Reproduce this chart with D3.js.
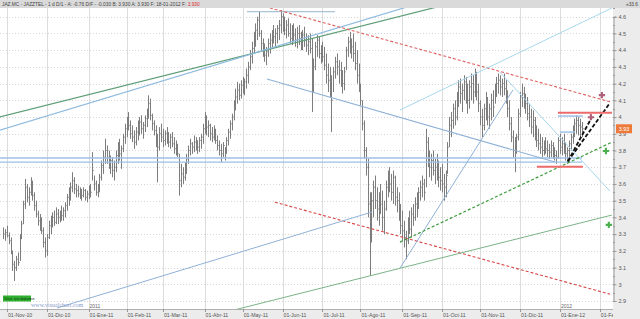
<!DOCTYPE html>
<html>
<head>
<meta charset="utf-8">
<script src="https://cdn.jsdelivr.net/npm/d3@7"></script>
<style>
  html, body { margin: 0; padding: 0; background: #fff; }
  svg { display: block; font-family: "Liberation Sans", Arial, sans-serif; }
</style>
</head>
<body>
<div id="chart"></div>
<script>
// JAZ.MC daily bars, 28-Oct-2010 .. 18-Jan-2012 (one value per trading day)
var high = [
  3.34,3.33,3.35,3.31,3.28,3.20,3.14,3.17,3.19,3.30, 3.38,3.50,3.63,3.60,3.58,3.64,3.62,3.55,3.50,3.44,
  3.42,3.40,3.34,3.28,3.30,3.38,3.41,3.43,3.44,3.46, 3.45,3.44,3.47,3.46,3.49,3.54,3.58,3.61,3.67,3.64,
  3.60,3.59,3.58,3.57,3.58,3.57,3.56,3.59,3.60,3.79, 3.65,3.62,3.60,3.66,3.74,3.80,3.87,3.83,3.80,3.77,
  3.76,3.74,3.80,3.85,3.87,3.83,3.90,3.96,4.00,4.03, 3.98,3.95,3.92,3.94,3.98,4.00,4.01,3.97,4.01,4.05,
  4.13,4.11,4.02,3.98,3.95,3.90,3.94,3.96,3.93,3.92, 3.94,3.91,3.90,3.91,3.88,3.86,3.84,3.78,3.72,3.70,
  3.73,3.78,3.83,3.87,3.85,3.89,3.88,3.86,3.88,3.90, 3.96,4.03,4.01,3.98,3.96,3.94,3.95,3.93,3.89,3.86,
  3.84,3.85,3.82,3.88,3.93,3.98,4.02,4.10,4.17,4.21, 4.20,4.22,4.24,4.23,4.29,4.33,4.40,4.45,4.51,4.56,
  4.60,4.63,4.52,4.47,4.44,4.42,4.47,4.50,4.52,4.55, 4.53,4.55,4.58,4.64,4.62,4.60,4.58,4.59,4.56,4.55,
  4.56,4.53,4.54,4.55,4.51,4.52,4.54,4.50,4.49,4.50, 4.47,4.35,4.45,4.49,4.48,4.43,4.45,4.42,4.38,4.32,
  4.30,4.25,4.30,4.36,4.38,4.34,4.33,4.28,4.30,4.42, 4.48,4.51,4.47,4.50,4.45,4.40,4.32,4.20,4.10,3.98,
  3.82,3.75,3.55,3.55,3.62,3.65,3.58,3.55,3.60,3.56, 3.50,3.62,3.68,3.70,3.66,3.68,3.65,3.58,3.55,3.48,
  3.44,3.38,3.32,3.40,3.44,3.46,3.48,3.52,3.55,3.58, 3.62,3.65,3.63,3.93,3.88,3.80,3.78,3.80,3.75,3.78,
  3.74,3.70,3.72,3.66,3.68,3.85,4.00,4.03,4.08,4.10, 4.15,4.22,4.23,4.20,4.25,4.24,4.20,4.22,4.26,4.25,
  4.29,4.27,4.20,4.10,4.05,4.08,4.15,4.12,4.08,4.14, 4.16,4.20,4.24,4.26,4.25,4.23,4.26,4.22,4.16,4.10,
  4.00,3.92,3.88,3.90,4.05,4.15,4.20,4.18,4.14,4.12, 4.08,4.05,4.04,4.00,3.95,3.93,3.90,3.88,3.86,3.88,
  3.86,3.84,3.86,3.85,3.82,3.80,3.88,3.90,3.88,3.90, 3.85,3.82,3.86,3.90,3.95,3.99,4.01,4.00,3.99,3.97
];
var low = [
  3.27,3.26,3.28,3.24,3.18,3.08,3.02,3.08,3.11,3.14, 3.27,3.36,3.45,3.49,3.47,3.53,3.50,3.44,3.40,3.35,
  3.32,3.30,3.22,3.16,3.17,3.27,3.30,3.34,3.35,3.36, 3.36,3.37,3.38,3.38,3.40,3.44,3.47,3.50,3.55,3.54,
  3.52,3.52,3.51,3.50,3.52,3.50,3.49,3.51,3.52,3.62, 3.56,3.53,3.52,3.55,3.62,3.66,3.72,3.72,3.69,3.66,
  3.64,3.62,3.67,3.72,3.74,3.69,3.79,3.84,3.88,3.92, 3.87,3.85,3.81,3.83,3.86,3.89,3.90,3.87,3.91,3.94,
  3.99,3.98,3.92,3.89,3.82,3.61,3.80,3.85,3.82,3.83, 3.84,3.82,3.81,3.82,3.78,3.77,3.76,3.53,3.58,3.60,
  3.62,3.66,3.72,3.77,3.78,3.79,3.80,3.78,3.79,3.81, 3.84,3.90,3.89,3.88,3.86,3.85,3.86,3.84,3.80,3.77,
  3.73,3.76,3.74,3.78,3.83,3.87,3.92,3.98,4.04,4.08, 4.10,4.11,4.14,4.13,4.17,4.20,4.28,4.32,4.38,4.42,
  4.46,4.48,4.40,4.36,4.33,4.31,4.36,4.38,4.41,4.44, 4.42,4.44,4.46,4.50,4.51,4.49,4.47,4.48,4.44,4.43,
  4.45,4.42,4.41,4.43,4.40,4.40,4.42,4.39,4.37,4.38, 4.03,4.15,4.28,4.36,4.35,4.32,4.33,4.28,4.20,4.15,
  4.12,3.91,4.15,4.23,4.25,4.20,4.18,4.14,4.16,4.28, 4.36,4.38,4.35,4.33,4.28,4.20,4.15,4.07,3.92,3.75,
  3.65,3.40,3.05,3.25,3.40,3.45,3.38,3.35,3.42,3.32, 3.30,3.44,3.52,3.55,3.50,3.48,3.47,3.43,3.38,3.30,
  3.26,3.22,3.15,3.24,3.30,3.28,3.35,3.38,3.40,3.45, 3.50,3.52,3.50,3.58,3.70,3.64,3.62,3.65,3.60,3.62,
  3.58,3.56,3.55,3.50,3.52,3.66,3.82,3.88,3.93,3.95, 3.98,4.06,4.08,4.03,4.10,4.08,4.02,4.05,4.10,4.08,
  4.12,4.10,4.03,3.95,3.88,3.92,3.98,3.95,3.93,3.98, 4.00,4.08,4.12,4.14,4.13,4.12,4.13,4.08,4.00,3.92,
  3.85,3.76,3.67,3.78,3.86,4.00,4.06,4.05,4.02,3.98, 3.94,3.90,3.88,3.86,3.82,3.80,3.78,3.76,3.77,3.78,
  3.76,3.75,3.76,3.75,3.74,3.72,3.75,3.78,3.77,3.78, 3.74,3.72,3.76,3.80,3.84,3.88,3.90,3.89,3.88,3.88
];
var close = [
  3.30,3.31,3.29,3.26,3.20,3.12,3.10,3.15,3.13,3.28, 3.36,3.48,3.58,3.52,3.55,3.60,3.53,3.47,3.42,3.38,
  3.36,3.32,3.25,3.20,3.28,3.35,3.38,3.40,3.37,3.42, 3.40,3.43,3.41,3.44,3.47,3.52,3.56,3.58,3.62,3.57,
  3.56,3.54,3.55,3.53,3.56,3.52,3.54,3.57,3.55,3.68, 3.60,3.55,3.58,3.64,3.71,3.76,3.80,3.76,3.72,3.74,
  3.68,3.70,3.77,3.80,3.78,3.81,3.88,3.93,3.97,3.95, 3.90,3.88,3.85,3.91,3.94,3.97,3.93,3.95,3.99,4.02,
  4.08,4.01,3.96,3.92,3.85,3.82,3.90,3.88,3.86,3.90, 3.87,3.85,3.88,3.84,3.81,3.80,3.78,3.62,3.66,3.64,
  3.70,3.75,3.80,3.84,3.82,3.85,3.86,3.82,3.86,3.88, 3.93,3.98,3.94,3.95,3.90,3.88,3.92,3.86,3.83,3.80,
  3.78,3.83,3.80,3.86,3.91,3.96,4.00,4.07,4.12,4.16, 4.13,4.19,4.18,4.21,4.25,4.30,4.36,4.41,4.47,4.52,
  4.58,4.50,4.44,4.40,4.37,4.39,4.44,4.46,4.49,4.48, 4.50,4.53,4.55,4.60,4.57,4.52,4.55,4.50,4.47,4.52,
  4.49,4.46,4.50,4.47,4.44,4.49,4.46,4.43,4.45,4.41, 4.20,4.30,4.42,4.46,4.38,4.40,4.36,4.31,4.25,4.22,
  4.18,4.10,4.27,4.33,4.30,4.28,4.22,4.20,4.27,4.40, 4.45,4.43,4.42,4.38,4.32,4.25,4.18,4.10,3.96,3.80,
  3.70,3.48,3.35,3.50,3.58,3.50,3.45,3.52,3.48,3.40, 3.45,3.58,3.62,3.60,3.55,3.64,3.52,3.50,3.42,3.35,
  3.32,3.28,3.26,3.36,3.33,3.42,3.40,3.48,3.50,3.55, 3.58,3.60,3.55,3.85,3.75,3.70,3.74,3.68,3.70,3.66,
  3.64,3.62,3.60,3.58,3.65,3.82,3.95,3.98,4.05,4.00, 4.12,4.18,4.14,4.16,4.21,4.12,4.10,4.18,4.20,4.15,
  4.24,4.15,4.08,4.00,3.95,4.05,4.10,4.00,4.05,4.10, 4.06,4.18,4.20,4.22,4.18,4.20,4.17,4.12,4.05,3.96,
  3.88,3.80,3.85,3.88,4.02,4.12,4.14,4.10,4.08,4.02, 4.00,3.94,3.98,3.90,3.86,3.84,3.82,3.80,3.84,3.81,
  3.80,3.79,3.83,3.78,3.77,3.76,3.86,3.82,3.84,3.80, 3.78,3.80,3.84,3.88,3.92,3.96,3.98,3.95,3.94,3.93
];

var monthLabels = ["01-Nov-10","01-Dic-10","01-Ene-11","01-Feb-11","01-Mar-11","01-Abr-11","01-May-11",
  "01-Jun-11","01-Jul-11","01-Ago-11","01-Sep-11","01-Oct-11","01-Nov-11","01-Dic-11","01-Ene-12","01-Feb-12"];
var yearLabels = [["2011", 2], ["2012", 14]];   // year text, index into monthLabels
var priceTicks = d3.range(29, 47).map(function(d) { return d / 10; });
var lastPrice = 3.93;

// drawn studies, in [bar index, price] pairs
var studyNames = ["greenUp","blueUp","support1","support2","peak","redTop","redLow","blueDown",
  "cyanDown","cyanUp","blueSteep","blueLong","greenLow","greenDash","black1","black2",
  "redShort1","blueShort1","blueShort2","redShort2"];
var studyFrom = [[-2,4.00],[-2,3.922],[-2,3.755],[-2,3.731],[134.4,4.63],[144.3,4.661],[149.8,3.491],[145.4,4.227],
  [273.9,4.269],[218.8,4.042],[218.8,3.097],[29.6,2.858],[125,2.84],[218.8,3.252],[311.4,3.735],[311.4,3.735],
  [305.9,4.026],[305.9,4.006],[307,3.91],[294.3,3.703]];
var studyTo = [[243.6,4.67],[228.1,4.676],[319.2,3.755],[319.2,3.731],[182.9,4.63],[335.1,4.09],[334.6,2.941],[304.3,3.731],
  [334.6,3.557],[335.7,4.652],[281.1,4.162],[203.3,3.432],[335.7,3.414],[335.7,3.85],[334.6,4.084],[324.7,4.0],
  [335.7,4.026],[319.7,4.006],[315.3,3.91],[319.7,3.703]];
var signalUp = [[332.4,3.797],[334.0,3.355]];
var signalDown = [[330.2,4.131],[324.1,3.999]];

var studyStyle = {
  greenUp:   ["#5f9e78", 1.2, null],
  blueUp:    ["#8fbbe0", 1.2, null],
  support1:  ["#9cc0e6", 1.3, null],
  support2:  ["#9cc0e6", 1.3, null],
  peak:      ["#a9c4d6", 1.2, null],
  redTop:    ["#e06060", 1.1, "3,2"],
  redLow:    ["#d84848", 1.1, "3,2"],
  blueDown:  ["#8fb1d6", 1.1, null],
  cyanDown:  ["#a8d4ec", 1.0, null],
  cyanUp:    ["#a8d8ee", 1.0, null],
  blueSteep: ["#8fb1d6", 1.0, null],
  blueLong:  ["#8fb1d6", 1.0, null],
  greenLow:  ["#7bb486", 1.0, null],
  greenDash: ["#3d9b3d", 1.2, "3,2"],
  black1:    ["#111", 1.8, "4,2"],
  black2:    ["#111", 1.8, "4,2"],
  redShort1: ["#ee6a6a", 2, null],
  blueShort1:["#9cc0e6", 1.5, null],
  blueShort2:["#9cc0e6", 1.5, null],
  redShort2: ["#ee6a6a", 2, null]
};

var W = 640, H = 319;
var plotRight = 613, plotTop = 8, plotBottom = 309;

// trading days (weekdays) from first bar to the end of the visible window
var days = d3.timeDay.range(new Date(2010, 9, 28), new Date(2012, 1, 15))
  .filter(function(d) { return d.getDay() !== 0 && d.getDay() !== 6; });

var x = d3.scaleLinear().domain([-1.86, 336.3]).range([0, plotRight]);
var y = d3.scaleLinear().domain([2.9, 4.6]).range([301, 16.7]);

var svg = d3.select("#chart").append("svg").attr("width", W).attr("height", H);

svg.append("rect").attr("width", W).attr("height", H).attr("fill", "#fff");
var defs = svg.append("defs");
defs.append("clipPath").attr("id", "plot")
  .append("rect").attr("x", 0).attr("y", plotTop).attr("width", plotRight).attr("height", plotBottom - plotTop);
defs.append("clipPath").attr("id", "dates")
  .append("rect").attr("x", 0).attr("y", plotBottom).attr("width", plotRight).attr("height", H - plotBottom);

// month positions: first trading day of each month
var monthIdx = [];
days.forEach(function(d, i) {
  if (i > 0 && d.getMonth() !== days[i - 1].getMonth()) monthIdx.push(i);
});
monthIdx = monthIdx.slice(0, monthLabels.length);

var plot = svg.append("g").attr("clip-path", "url(#plot)");

// grid
plot.selectAll(".vgrid").data(monthIdx).enter().append("line")
  .attr("x1", function(d) { return Math.round(x(d)) + 0.5; })
  .attr("x2", function(d) { return Math.round(x(d)) + 0.5; })
  .attr("y1", plotTop).attr("y2", plotBottom)
  .attr("stroke", "#dcdcdc").attr("stroke-width", 1);
plot.selectAll(".hgrid").data(priceTicks).enter().append("line")
  .attr("x1", 0).attr("x2", plotRight)
  .attr("y1", function(d) { return Math.round(y(d)) + 0.5; })
  .attr("y2", function(d) { return Math.round(y(d)) + 0.5; })
  .attr("stroke", "#d6d6d6").attr("stroke-dasharray", "1,2");

// bars
var bars = plot.append("g");
high.forEach(function(h, i) {
  var bx = Math.round(x(i)) + 0.5;
  bars.append("line").attr("x1", bx).attr("x2", bx)
    .attr("y1", y(h)).attr("y2", y(low[i]))
    .attr("stroke", "#7d7d7d").attr("stroke-width", 1);
  bars.append("line").attr("x1", bx).attr("x2", bx + 1.2)
    .attr("y1", y(close[i])).attr("y2", y(close[i]))
    .attr("stroke", "#7d7d7d").attr("stroke-width", 1);
});

// studies
studyNames.forEach(function(n, k) {
  var s = studyStyle[n];
  plot.append("line")
    .attr("x1", x(studyFrom[k][0])).attr("y1", y(studyFrom[k][1]))
    .attr("x2", x(studyTo[k][0])).attr("y2", y(studyTo[k][1]))
    .attr("stroke", s[0]).attr("stroke-width", s[1])
    .attr("stroke-dasharray", s[2]);
});

// signals
var crossPath = d3.symbol().type(d3.symbolCross).size(22);
plot.selectAll(".up").data(signalUp).enter().append("path")
  .attr("d", crossPath)
  .attr("transform", function(d) { return "translate(" + x(d[0]) + "," + y(d[1]) + ")"; })
  .attr("fill", "#4caf50");
plot.selectAll(".dn").data(signalDown).enter().append("path")
  .attr("d", crossPath)
  .attr("transform", function(d) { return "translate(" + x(d[0]) + "," + y(d[1]) + ")"; })
  .attr("fill", "#b0607a");

// right price axis
svg.append("rect").attr("x", plotRight).attr("y", 0).attr("width", W - plotRight).attr("height", H)
  .attr("fill", "#ececec");
var yAxis = svg.append("g").attr("transform", "translate(" + (plotRight + 0.5) + ",0)")
  .call(d3.axisRight(y).tickValues(priceTicks).tickSize(3)
    .tickFormat(function(d) { return +d.toFixed(1); }));
yAxis.select(".domain").attr("stroke", "#9a9a9a");
yAxis.selectAll(".tick line").attr("stroke", "#9a9a9a");
yAxis.selectAll("text").attr("font-size", 5.5).attr("fill", "#555").attr("x", 5);
svg.append("g").selectAll("line").data(d3.range(29, 47, 0.5).map(function(d) { return d / 10; }))
  .enter().append("line")
  .attr("x1", plotRight).attr("x2", plotRight + 2)
  .attr("y1", function(d) { return Math.round(y(d)) + 0.5; })
  .attr("y2", function(d) { return Math.round(y(d)) + 0.5; })
  .attr("stroke", "#9a9a9a");

// last price tag
svg.append("rect").attr("x", plotRight + 3).attr("y", y(lastPrice) - 4.5)
  .attr("width", 16).attr("height", 9).attr("fill", "#ee7a3a");
svg.append("text").attr("x", plotRight + 11).attr("y", y(lastPrice) + 2)
  .attr("text-anchor", "middle").attr("font-size", 5.5).attr("fill", "#fff").text(lastPrice);

// bottom date axis
svg.append("rect").attr("x", 0).attr("y", plotBottom).attr("width", plotRight).attr("height", H - plotBottom)
  .attr("fill", "#ececec");
svg.append("line").attr("x1", 0).attr("x2", plotRight).attr("y1", plotBottom + 0.5).attr("y2", plotBottom + 0.5)
  .attr("stroke", "#b0b0b0");
var dateAxis = svg.append("g").attr("clip-path", "url(#dates)");
monthIdx.forEach(function(m, k) {
  dateAxis.append("line").attr("x1", Math.round(x(m)) + 0.5).attr("x2", Math.round(x(m)) + 0.5)
    .attr("y1", plotBottom).attr("y2", plotBottom + 3).attr("stroke", "#999");
  dateAxis.append("text").attr("x", x(m) + 1).attr("y", 316.5)
    .attr("font-size", 5.2).attr("fill", "#555").text(monthLabels[k]);
});
yearLabels.forEach(function(yl) {
  svg.append("text").attr("x", x(monthIdx[yl[1]]) + 1).attr("y", 307.5)
    .attr("font-size", 5).attr("fill", "#666").text(yl[0]);
});

// header
svg.append("rect").attr("width", W).attr("height", plotTop).attr("fill", "#dadada");
svg.append("text").attr("x", 2).attr("y", 5.5).attr("font-size", 4.8).attr("fill", "#444")
  .text("JAZ.MC - JAZZTEL - 1 d D/1 - A: -0.76 D/F - -0.030 B: 3.930 A: 3.930 F: 18-01-2012 F: ")
  .append("tspan").attr("fill", "#e03030").text("3.930");
svg.append("text").attr("x", 638).attr("y", 5.5).attr("text-anchor", "end").attr("font-size", 4.8)
  .attr("fill", "#444").text("\u00ab33.6");

// footer badges
svg.append("rect").attr("x", 3).attr("y", 295.5).attr("width", 28).attr("height", 6).attr("fill", "#2fae2f");
svg.append("text").attr("x", 4.5).attr("y", 300.2).attr("font-size", 4.3).attr("fill", "#0d3d0d").text("Dist. en datame");
svg.append("text").attr("x", 31).attr("y", 307).attr("font-size", 6).attr("fill", "#8a9ccc")
  .attr("font-family", "Liberation Serif, serif").text("www.visualchart.com");
</script>
</body>
</html>
